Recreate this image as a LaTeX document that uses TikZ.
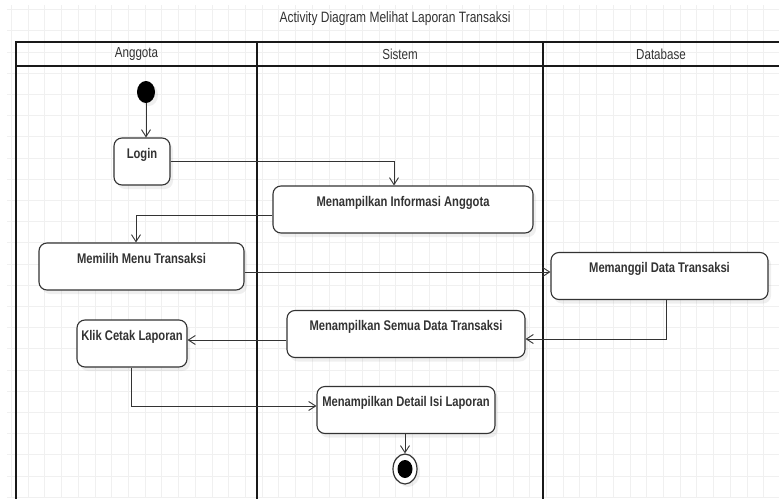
\documentclass[tikz,border=0pt]{standalone}
\usepackage{fontspec}
\setmainfont{Liberation Sans}[FakeStretch=0.8]
\usepackage{xcolor}
\usepackage{tikz}
\usetikzlibrary{positioning,arrows.meta,shapes.geometric,shadows,calc}

\definecolor{inkgray}{HTML}{333333}
\definecolor{gridgray}{HTML}{F0F0F0}

\begin{document}
\begin{tikzpicture}[x=1pt, y=-1pt, >={Straight Barb[length=7pt,width=9pt]}]
    \tikzset{
        action/.style={draw=inkgray, line width=1.1pt, rounded corners=8pt, fill=white,
            inner xsep=0pt, inner ysep=0pt, text height=20pt, text depth=27pt,
            minimum height=47pt, text=inkgray, font=\fontsize{14}{16}\selectfont\bfseries,
            drop shadow={shadow xshift=3pt, shadow yshift=-4pt, opacity=0.12}},
        lanetitle/.style={text=inkgray, font=\fontsize{14.5}{16}\selectfont},
        lane/.style={line width=1.9pt, black!90},
        flow/.style={->, line width=0.9pt, inkgray},
        gridline/.style={gridgray, line width=0.8pt}
    }

    \useasboundingbox[fill=white] (0,0) rectangle (779,498);

    % grid
    \foreach \i in {0,...,46}
        \draw[gridline] ({11.3+16.72*\i},5) -- ({11.3+16.72*\i},498);
    \foreach \j in {0,...,23}
        \draw[gridline] (7,{9.5+21.2*\j}) -- (779,{9.5+21.2*\j});

    \node[text=inkgray, font=\fontsize{15}{17}\selectfont] (title) at (395,19) {Activity Diagram Melihat Laporan Transaksi};

    % swimlanes
    \draw[lane] (16,500) -- (16,42) -- (781,42);
    \draw[lane] (16,66) -- (781,66);
    \draw[lane] (257,42) -- (257,500);
    \draw[lane] (543,42) -- (543,500);
    \node[lanetitle] (anggota) at (136.5,54) {Anggota};
    \node[lanetitle] (sistem) at (400,54) {Sistem};
    \node[lanetitle] (database) at (661,54) {Database};

    % activities
    \node[ellipse, fill=black, inner sep=0pt, minimum width=18pt, minimum height=22pt,
        drop shadow={shadow xshift=3pt, shadow yshift=-3pt, opacity=0.12}] (start) at (146,92) {};
    \node[action, minimum width=56pt] (login) at (142,161.5) {Login};
    \node[action, minimum width=260pt] (info) at (403,209.5) {Menampilkan Informasi Anggota};
    \node[action, minimum width=205pt] (menu) at (141.5,266.5) {Memilih Menu Transaksi};
    \node[action, minimum width=217pt] (panggil) at (659.5,276) {Memanggil Data Transaksi};
    \node[action, minimum width=238pt] (semua) at (406,334) {Menampilkan Semua Data Transaksi};
    \node[action, minimum width=110pt] (cetak) at (132,343.5) {Klik Cetak Laporan};
    \node[action, minimum width=178pt] (detail) at (406,410) {Menampilkan Detail Isi Laporan};
    \node[ellipse, draw=inkgray, line width=1.2pt, fill=white, inner sep=0pt,
        minimum width=24pt, minimum height=30pt,
        drop shadow={shadow xshift=3pt, shadow yshift=-3pt, opacity=0.12}] (end) at (405,469) {};
    \node[ellipse, fill=black, inner sep=0pt, minimum width=15pt, minimum height=18pt] (endcore) at (end.center) {};

    % flows
    \draw[flow] (start) -- (start |- login.north);
    \draw[flow] (login.east) -| ([xshift=-9pt]info.north);
    \draw[flow] ([yshift=-5.5pt]info.west) -| ([xshift=-5.5pt]menu.north);
    \draw[flow] ([yshift=-5.5pt]menu.east) -- ([yshift=-5.5pt]menu.east -| panggil.west);
    \draw[flow] ([xshift=6.5pt]panggil.south) |- ([yshift=-5pt]semua.west -| semua.east);
    \draw[flow] ([yshift=-6pt]semua.west) -- ([yshift=-6pt]semua.west -| cetak.east);
    \draw[flow] ([xshift=-1pt]cetak.south) |- ([yshift=4pt]detail.west);
    \draw[flow] ([xshift=-1pt]detail.south) -- (end);
\end{tikzpicture}
\end{document}
